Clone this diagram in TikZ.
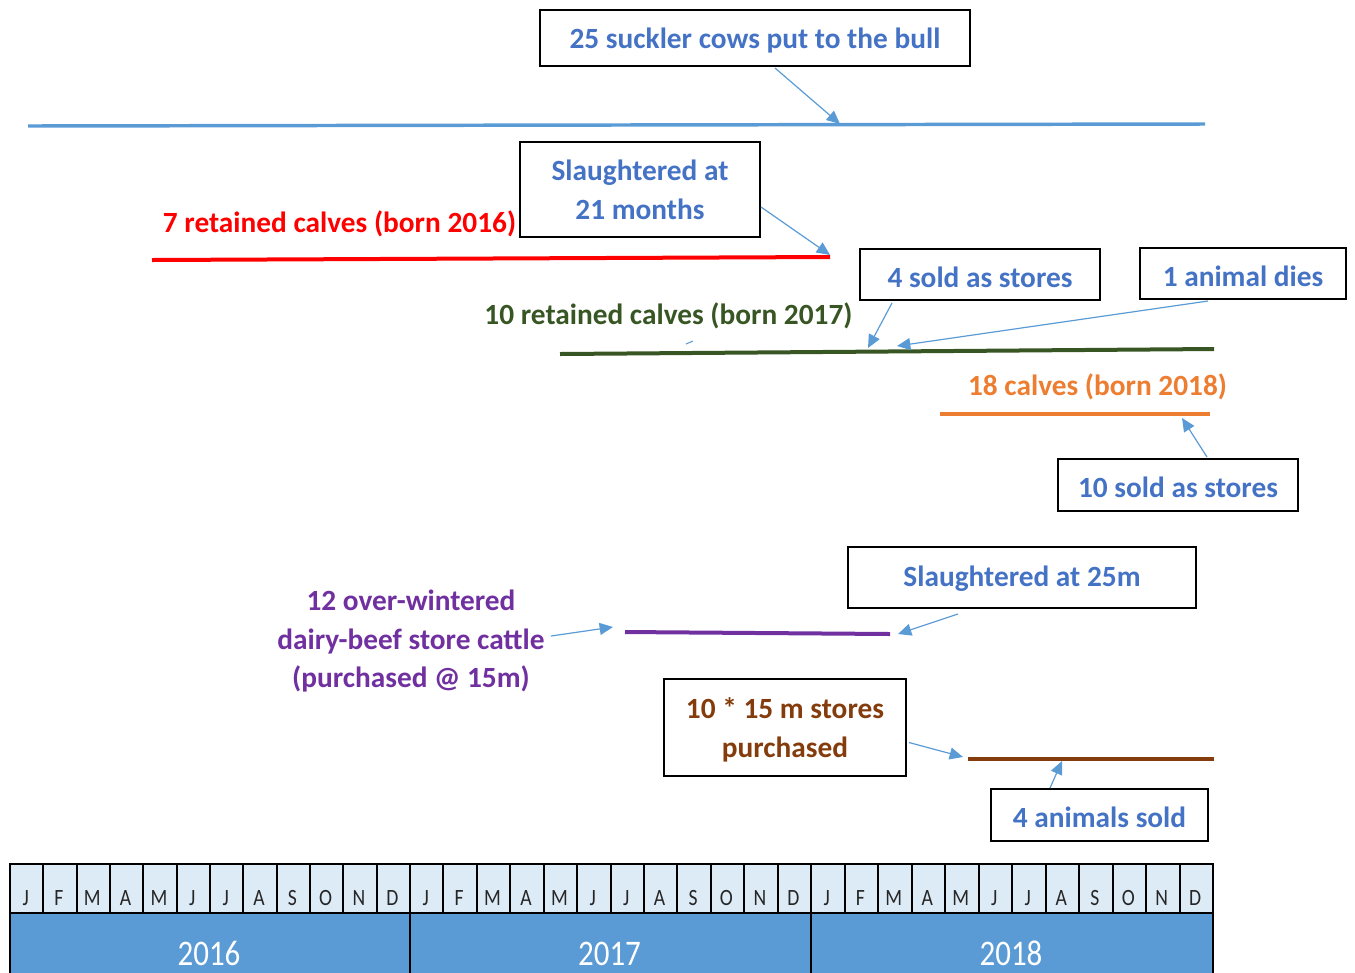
\documentclass[tikz,border=0pt]{standalone}
\usepackage{fontspec}
\setmainfont{Carlito}
\usetikzlibrary{arrows.meta,calc}
\definecolor{tblue}{HTML}{4472C4}
\definecolor{lblue}{HTML}{5B9BD5}
\definecolor{tred}{HTML}{FF0000}
\definecolor{tgreen}{HTML}{375623}
\definecolor{torange}{HTML}{ED7D31}
\definecolor{tpurple}{HTML}{7030A0}
\definecolor{tbrown}{HTML}{843C0C}
\definecolor{monthfill}{HTML}{DDEBF7}
\tikzset{
  box/.style={draw=black,line width=1.5pt,inner sep=0pt},
  btxt/.style={inner sep=0pt,align=center,text=tblue,font=\fontsize{22}{29}\selectfont\bfseries},
  lbl/.style={inner sep=0pt,align=center,font=\fontsize{22}{29}\selectfont\bfseries},
  conn/.style={draw=lblue,line width=0.9pt,-{Triangle[length=10pt,width=9pt]}},
  mcell/.style={draw=black,line width=1.5pt,fill=monthfill},
  ycell/.style={draw=black,line width=1.5pt,fill=lblue},
}
\begin{document}
\begin{tikzpicture}[x=0.75pt,y=-0.75pt]
\useasboundingbox (0,0) rectangle (1355,972);
% timelines
\coordinate (blA) at (28,126); \coordinate (blB) at (1205,124);
\draw[lblue,line width=2.6pt] (blA) -- (blB);
\coordinate (rdA) at (152,260); \coordinate (rdB) at (830,257);
\draw[tred,line width=3pt] (rdA) -- (rdB);
\coordinate (gnA) at (560,354); \coordinate (gnB) at (1214,349);
\draw[tgreen,line width=3pt] (gnA) -- (gnB);
\coordinate (orA) at (940,414); \coordinate (orB) at (1210,414);
\draw[torange,line width=2.4pt] (orA) -- (orB);
\coordinate (ppA) at (625,632); \coordinate (ppB) at (890,634);
\draw[tpurple,line width=3pt] (ppA) -- (ppB);
\coordinate (brA) at (968,759); \coordinate (brB) at (1214,759);
\draw[tbrown,line width=2.4pt] (brA) -- (brB);
\coordinate (mkA) at (686,344); \coordinate (mkB) at (693,341);
\draw[lblue,line width=0.8pt] (mkA) -- (mkB);
% boxes
\node[box,minimum width=430*0.75pt,minimum height=56*0.75pt] (b1) at (755,38) {};
\node[btxt] (b1t) at (755,41) {25 suckler cows put to the bull};
\node[box,minimum width=240*0.75pt,minimum height=95*0.75pt] (b2) at (640,189.5) {};
\node[btxt] (b2t) at (640,190) {Slaughtered at\\21 months};
\node[box,minimum width=240*0.75pt,minimum height=51*0.75pt] (b3) at (980,274.5) {};
\node[btxt] (b3t) at (980,277) {4 sold as stores};
\node[box,minimum width=206*0.75pt,minimum height=51*0.75pt] (b4) at (1243,273.5) {};
\node[btxt] (b4t) at (1243,276) {1 animal dies};
\node[box,minimum width=240*0.75pt,minimum height=52*0.75pt] (b5) at (1178,485) {};
\node[btxt] (b5t) at (1178,487.5) {10 sold as stores};
\node[box,minimum width=348*0.75pt,minimum height=61*0.75pt] (b6) at (1022,577.5) {};
\node[btxt] (b6t) at (1022,579) {Slaughtered at 25m};
\node[box,minimum width=242*0.75pt,minimum height=97*0.75pt] (b7) at (785,727.5) {};
\node[btxt,text=tbrown] (b7t) at (785,730) {10 * 15 m stores\\purchased};
\node[box,minimum width=217*0.75pt,minimum height=52*0.75pt] (b8) at (1099.5,815) {};
\node[btxt] (b8t) at (1099.5,817.5) {4 animals sold};
% labels
\node[lbl,text=tred] (l1) at (339.5,224) {7 retained calves (born 2016)};
\node[lbl,text=tgreen] (l2) at (668.5,316) {10 retained calves (born 2017)};
\node[lbl,text=torange] (l3) at (1097.5,387) {18 calves (born 2018)};
\node[lbl,text=tpurple] (l4) at (411,641) {12 over-wintered\\dairy-beef store cattle\\(purchased @ 15m)};
% connectors
\coordinate (t1) at (840,124);
\draw[conn] ($(b1.south)+(20,1)$) -- (t1);
\coordinate (t2) at (830,255);
\draw[conn] ($(b2.east)+(0,17.5)$) -- (t2);
\coordinate (t3) at (868,348);
\draw[conn] ($(b3.south)+(-88,2)$) -- (t3);
\coordinate (t4) at (897,346);
\draw[conn] ($(b4.south)+(-35,1)$) -- (t4);
\coordinate (t5) at (1182,418);
\draw[conn] ($(b5.north)+(29,-1)$) -- (t5);
\coordinate (t6) at (898,634);
\draw[conn] ($(b6.south)+(-64,5)$) -- (t6);
\coordinate (t7) at (613,627);
\draw[conn] ($(l4.east)+(6,-5)$) -- (t7);
\coordinate (t8) at (963,757);
\draw[conn] ($(b7.east)+(2,15)$) -- (t8);
\coordinate (t9) at (1062,761);
\draw[conn] ($(b8.north)+(-49.5,0)$) -- (t9);
% calendar table
\foreach \ys/\ye/\yr in {9/409/2016,409/810/2017,810/1212/2018}{
  \node[ycell,minimum width={(\ye-\ys)*0.75pt},minimum height=70*0.75pt,anchor=north west,inner sep=0pt] (y\yr) at (\ys,912) {};
  \node[text=white,font=\fontsize{27}{30}\selectfont,anchor=base] (yl\yr) at ({(\ys+\ye)/2},965) {\scalebox{0.86}[1]{\yr}};
  \foreach \m [count=\i] in {J,F,M,A,M,J,J,A,S,O,N,D}{
    \pgfmathsetmacro{\xa}{\ys+(\i-1)*(\ye-\ys)/12}
    \pgfmathsetmacro{\xb}{\ys+\i*(\ye-\ys)/12}
    \node[mcell,minimum width={(\xb-\xa)*0.75pt},minimum height=49*0.75pt,anchor=north west,inner sep=0pt] (m\yr\i) at (\xa,863) {};
    \node[text=black!85,font=\fontsize{17.5}{20}\selectfont,anchor=base] (ml\yr\i) at ({(\xa+\xb)/2},905) {\scalebox{0.84}[1]{\m}};
  }
}
\end{tikzpicture}
\end{document}
